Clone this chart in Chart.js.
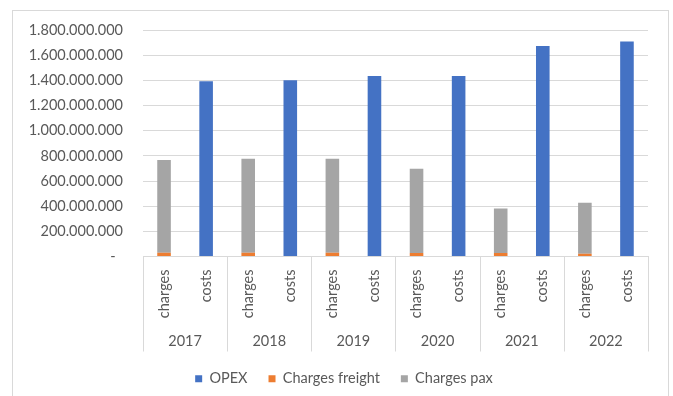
<!DOCTYPE html>
<html>
<head>
<meta charset="utf-8">
<script src="https://cdn.jsdelivr.net/npm/chart.js@4/dist/chart.umd.min.js"></script>
<style>
  html, body { margin: 0; padding: 0; background: #ffffff; }
  #wrap { position: relative; width: 673px; height: 396px; }
  canvas { display: block; }
</style>
</head>
<body>
<div id="wrap"><canvas id="chart" width="673" height="396"></canvas></div>
<script>
// Years (outer category level) and the two bars inside each year
const years = ['2017', '2018', '2019', '2020', '2021', '2022'];
const groups = ['charges', 'costs'];

// Values per year
const opex           = [1392000000, 1400000000, 1435000000, 1435000000, 1673000000, 1708000000];
const chargesFreight = [30000000, 30000000, 30000000, 27000000, 27000000, 22000000];
const chargesPax     = [737000000, 747000000, 747000000, 670000000, 355000000, 405000000];

// Value axis range
const yMax = 1800000000;
const yStep = 200000000;

const TEXT = '#595959';
const GRID = '#d9d9d9';
const FONT = { family: 'Lato', size: 14.5 };

// Inner category labels: charges / costs repeated for each year
const innerLabels = years.flatMap(() => groups);
// Charges bars sit in the first slot of each year, OPEX in the second
const opexData    = years.flatMap((y, i) => [null, opex[i]]);
const freightData = years.flatMap((y, i) => [chargesFreight[i], null]);
const paxData     = years.flatMap((y, i) => [chargesPax[i], null]);

function dotted(v) {
  if (v === 0) return '-  ';
  return String(Math.round(v)).replace(/\B(?=(\d{3})+(?!\d))/g, '.');
}

// Light frame around the whole chart
const framePlugin = {
  id: 'frame',
  beforeDraw(chart) {
    const ctx = chart.ctx;
    ctx.save();
    ctx.strokeStyle = GRID;
    ctx.lineWidth = 1;
    ctx.strokeRect(12.5, 10.5, 656, 400);
    ctx.restore();
  }
};

// Centre the legend under the framed area rather than the full canvas
const legendShiftPlugin = {
  id: 'legendShift',
  afterLayout(chart) {
    if (chart.legend) chart.legend.left = 40;
  }
};

// Vertical separators between the year groups, spanning both label rows
const dividerPlugin = {
  id: 'yearDividers',
  afterDraw(chart) {
    const xs = chart.scales.x;
    const x2 = chart.scales.x2;
    const half = (xs.getPixelForValue(1) - xs.getPixelForValue(0)) / 2;
    const ctx = chart.ctx;
    ctx.save();
    ctx.strokeStyle = GRID;
    ctx.lineWidth = 1;
    ctx.beginPath();
    for (let i = 0; i <= years.length; i++) {
      const px = i < years.length
        ? xs.getPixelForValue(i * groups.length) - half
        : xs.getPixelForValue(i * groups.length - 1) + half;
      const x = Math.round(px) + 0.5;
      ctx.moveTo(x, chart.chartArea.bottom);
      ctx.lineTo(x, x2.bottom + 1);
    }
    ctx.stroke();
    ctx.restore();
  }
};

new Chart(document.getElementById('chart'), {
  type: 'bar',
  data: {
    labels: innerLabels,
    datasets: [
      { label: 'OPEX', data: opexData, backgroundColor: '#4472C4' },
      { label: 'Charges freight', data: freightData, backgroundColor: '#ED7D31' },
      { label: 'Charges pax', data: paxData, backgroundColor: '#A5A5A5' }
    ]
  },
  options: {
    responsive: false,
    animation: false,
    devicePixelRatio: 1,
    layout: { padding: { left: 0, right: 25, top: 30, bottom: 0 } },
    datasets: { bar: { categoryPercentage: 1, barPercentage: 0.323, borderWidth: 0 } },
    plugins: {
      tooltip: { enabled: false },
      legend: {
        position: 'bottom',
        labels: { boxWidth: 7, boxHeight: 7, padding: 21, color: TEXT, font: FONT }
      }
    },
    scales: {
      x: {
        type: 'category',
        stacked: true,
        offset: true,
        weight: 0,
        grid: { display: false, drawTicks: false },
        border: { display: true, color: GRID },
        ticks: { autoSkip: false, minRotation: 90, maxRotation: 90, padding: 13, color: TEXT, font: FONT },
        afterFit(s) { s.height = 70; }
      },
      x2: {
        type: 'category',
        position: 'bottom',
        labels: years,
        offset: true,
        weight: 1,
        grid: { display: false, drawTicks: false },
        border: { display: false },
        ticks: { autoSkip: false, maxRotation: 0, padding: 6, color: TEXT, font: FONT },
        afterFit(s) { s.height = 24; }
      },
      y: {
        stacked: true,
        min: 0,
        max: yMax,
        grid: { color: GRID, drawTicks: false },
        border: { display: false },
        ticks: { stepSize: yStep, padding: 20, color: TEXT, font: FONT, callback: (v) => dotted(v) },
        afterFit(s) { s.width = 143; }
      }
    }
  },
  plugins: [framePlugin, legendShiftPlugin, dividerPlugin]
});
</script>
</body>
</html>
